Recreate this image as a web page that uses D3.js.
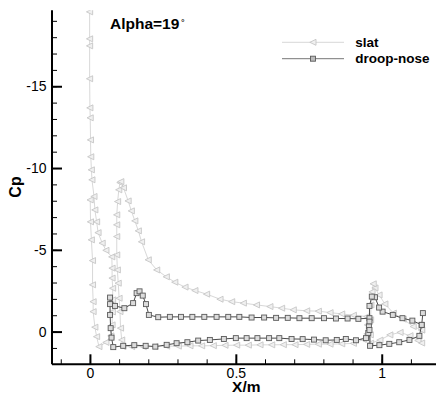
<!DOCTYPE html>
<html><head><meta charset="utf-8">
<script src="https://cdn.jsdelivr.net/npm/d3@7"></script>
<style>
html,body{margin:0;padding:0;background:#fff;}
svg{display:block;font-family:"Liberation Sans",Arial,sans-serif;}
</style></head>
<body>
<svg id="chart" width="436" height="395"></svg>
<script>
// ---------------- data ----------------
const seriesNames = ["slat", "droop-nose"];
const titleText = "Alpha=19";
const xLabel = "X/m";
const yLabel = "Cp";
const xMajorTicks = [0, 0.5, 1];
const xTickLabels = ["0", "0.5", "1"];
const yMajorTicks = [-15, -10, -5, 0];
const yTickLabels = ["-15", "-10", "-5", "0"];

// slat configuration: slat element [x, Cp]
const slatSlatElement = [
  [-0.001,-19.55],[-0.001,-17.90],[-0.001,-17.47],[-0.001,-15.46],[0.000,-13.68],[0.001,-13.07],
  [0.002,-11.72],[0.003,-10.69],[0.005,-9.89],[0.007,-9.28],[0.014,-8.26],[0.017,-7.44],
  [0.023,-6.71],[0.028,-6.05],[0.042,-5.41],[0.055,-4.97],[0.075,-4.57],
  [0.076,-3.88],[0.076,-3.27],[0.078,-2.65],[0.078,-1.94],[0.077,-1.20],[0.076,-0.41],
  [0.072,0.26],[0.055,0.66],[0.031,0.92],
  [0.023,0.31],[0.017,-0.27],[0.011,-1.22],[0.011,-1.83],[0.009,-2.86],[0.009,-4.34],
  [0.005,-5.61],[0.002,-6.71],[0.001,-8.05]
];
// slat configuration: main element
const slatMainElement = [
  [0.950,0.14],[0.937,0.48],[0.903,0.72],[0.863,0.75],[0.823,0.77],[0.783,0.77],[0.743,0.78],
  [0.703,0.80],[0.663,0.80],[0.623,0.81],[0.583,0.81],[0.543,0.83],[0.503,0.83],[0.463,0.84],
  [0.423,0.86],[0.383,0.87],[0.343,0.87],[0.303,0.89],[0.263,0.89],[0.223,0.91],[0.183,0.92],
  [0.143,0.92],[0.113,0.92],
  [0.109,0.51],[0.105,-0.21],[0.103,-1.22],[0.100,-2.04],[0.097,-2.96],[0.094,-3.77],
  [0.092,-4.69],[0.092,-5.81],[0.092,-6.53],[0.092,-7.14],[0.095,-7.95],[0.099,-8.67],
  [0.103,-9.11],[0.106,-9.17],[0.115,-8.79],
  [0.131,-7.99],[0.142,-7.38],[0.154,-6.77],[0.166,-6.16],[0.177,-5.49],[0.200,-4.39],
  [0.229,-3.77],[0.262,-3.35],[0.291,-3.02],[0.326,-2.72],[0.360,-2.51],[0.400,-2.29],
  [0.446,-1.98],[0.486,-1.83],[0.526,-1.74],[0.571,-1.63],[0.617,-1.53],[0.657,-1.43],
  [0.697,-1.33],[0.743,-1.27],[0.783,-1.25],[0.823,-1.16],[0.863,-1.08],[0.903,-1.00],
  [0.949,-0.92],[0.951,-0.41],[0.950,0.14]
];
// slat configuration: flap
const slatFlap = [
  [1.137,-0.10],[1.108,-0.31],[1.074,-0.76],[1.040,-1.13],[1.011,-1.69],[0.991,-2.24],
  [0.977,-2.67],[0.971,-2.92],
  [0.967,-2.43],[0.963,-1.63],[0.962,-0.72],[0.961,0.20],[0.962,0.71],
  [0.994,0.52],[1.028,0.20],[1.063,0.05],[1.097,0.25],[1.124,0.55],[1.137,0.70],[1.137,-0.10]
];
// droop-nose configuration: main element
const droopMainElement = [
  [0.954,0.08],[0.946,0.40],[0.912,0.53],[0.877,0.45],[0.846,0.51],[0.808,0.53],[0.768,0.49],
  [0.729,0.46],[0.691,0.45],[0.649,0.40],[0.614,0.40],[0.574,0.40],[0.537,0.40],[0.500,0.40],
  [0.459,0.45],[0.411,0.51],[0.371,0.55],[0.334,0.65],[0.297,0.71],[0.263,0.81],[0.224,0.92],
  [0.191,0.87],[0.152,0.83],[0.114,0.87],[0.080,0.95],
  [0.074,0.37],[0.071,-0.21],[0.069,-1.02],[0.069,-1.68],[0.069,-2.08],
  [0.086,-1.57],[0.118,-1.43],[0.148,-1.74],[0.160,-2.35],[0.170,-2.46],[0.181,-2.20],
  [0.192,-1.68],[0.202,-1.02],[0.234,-0.88],[0.274,-0.90],[0.312,-0.90],[0.351,-0.90],
  [0.392,-0.90],[0.434,-0.90],[0.474,-0.90],[0.512,-0.90],[0.554,-0.86],[0.597,-0.86],
  [0.638,-0.84],[0.678,-0.84],[0.718,-0.82],[0.760,-0.82],[0.802,-0.82],[0.843,-0.80],
  [0.883,-0.80],[0.920,-0.78],[0.958,-0.82],[0.958,-0.61],[0.956,-0.31]
];
// droop-nose configuration: flap
const droopFlap = [
  [1.141,-1.13],[1.137,-0.41],[1.105,-0.67],[1.071,-0.82],[1.038,-1.02],[1.003,-1.22],
  [0.991,-1.47],[0.977,-2.10],[0.966,-2.14],[0.958,-1.57],[0.958,-0.10],
  [0.960,0.87],[0.992,0.83],[1.026,0.75],[1.060,0.65],[1.095,0.51],[1.129,0.26],[1.137,-0.41]
];

// ---------------- chart ----------------
(function () {
const svg = d3.select("#chart");
const pLeft = 52, pRight = 436, pTop = 10.2, pBottom = 364.3;
const x = d3.scaleLinear().domain([-0.13, 1.186]).range([pLeft, pRight]);
const y = d3.scaleLinear().domain([-19.65, 2]).range([pTop, pBottom]);

svg.append("defs").append("clipPath").attr("id","clip")
  .append("rect").attr("x", pLeft).attr("y", pTop).attr("width", pRight-pLeft).attr("height", pBottom-pTop);

const plot = svg.append("g").attr("clip-path","url(#clip)");
const line = d3.line().x(d => x(d[0])).y(d => y(d[1]));

const slatColor = "#d8d8d8", slatMarker = "#c6c6c6";
const droopColor = "#4a4a4a", droopMarker = "#5a5a5a";

function drawTri(g, data) {
  g.selectAll("path.m").data(data).enter().append("path")
    .attr("transform", d => `translate(${x(d[0])},${y(d[1])})`)
    .attr("d", "M-3.2,0L3,-3L3,3Z")
    .attr("fill", "#f0f0f0").attr("stroke", slatMarker).attr("stroke-width", 0.9);
}
function drawSq(g, data) {
  g.selectAll("rect.m").data(data).enter().append("rect")
    .attr("x", d => x(d[0]) - 2.5).attr("y", d => y(d[1]) - 2.5)
    .attr("width", 5).attr("height", 5)
    .attr("fill", "#dcdcdc").attr("stroke", droopMarker).attr("stroke-width", 0.9);
}

[slatSlatElement, slatMainElement, slatFlap].forEach(s => {
  plot.append("path").datum(s).attr("d", line).attr("fill","none")
    .attr("stroke", slatColor).attr("stroke-width", 1);
});
[slatSlatElement, slatMainElement, slatFlap].forEach(s => drawTri(plot.append("g"), s));

[droopMainElement, droopFlap].forEach(s => {
  plot.append("path").datum(s).attr("d", line).attr("fill","none")
    .attr("stroke", droopColor).attr("stroke-width", 1);
});
[droopMainElement, droopFlap].forEach(s => drawSq(plot.append("g"), s));

// axes
const xAxis = d3.axisBottom(x).tickValues(xMajorTicks).tickSize(-10)
  .tickFormat((d,i) => xTickLabels[i]).tickPadding(4);
const xAxisMinor = d3.axisBottom(x).tickValues(d3.range(-0.1, 1.15, 0.1).map(v => Math.round(v*10)/10))
  .tickSize(-5).tickFormat("");
const yAxis = d3.axisLeft(y).tickValues(yMajorTicks).tickSize(-10)
  .tickFormat((d,i) => yTickLabels[i]).tickPadding(5.5);
const yAxisMinor = d3.axisLeft(y).tickValues(d3.range(-19, 2, 1)).tickSize(-5).tickFormat("");

function styleAxis(g, w) {
  g.select(".domain").remove();
  g.selectAll(".tick line").attr("stroke","#000").attr("stroke-width", w);
  g.selectAll(".tick text").attr("font-size", 14).attr("fill","#000")
    .attr("font-family", '"Liberation Sans",Arial,sans-serif');
}
svg.append("g").attr("transform", `translate(0,${pBottom})`).call(xAxisMinor).call(g => styleAxis(g, 1));
svg.append("g").attr("transform", `translate(0,${pBottom})`).call(xAxis).call(g => styleAxis(g, 2));
svg.append("g").attr("transform", `translate(${pLeft},0)`).call(yAxisMinor).call(g => styleAxis(g, 1));
svg.append("g").attr("transform", `translate(${pLeft},0)`).call(yAxis).call(g => styleAxis(g, 2));

// axis lines
svg.append("line").attr("x1", pLeft).attr("x2", pRight).attr("y1", pBottom).attr("y2", pBottom)
  .attr("stroke","#000").attr("stroke-width", 2);
svg.append("line").attr("x1", pLeft).attr("x2", pLeft).attr("y1", pTop).attr("y2", pBottom)
  .attr("stroke","#000").attr("stroke-width", 2);

// labels
svg.append("text").attr("x", 246.3).attr("y", 392.3).attr("text-anchor","middle")
  .attr("font-size", 15.5).attr("font-weight","bold").text(xLabel);
svg.append("text").attr("transform","translate(21,187) rotate(-90)").attr("text-anchor","middle")
  .attr("font-size", 16).attr("font-weight","bold").text(yLabel);

const title = svg.append("text").attr("x", 110).attr("y", 29)
  .attr("font-size", 15.5).attr("font-weight","bold").text(titleText);
title.append("tspan").attr("dx", 2).attr("font-size", 11).attr("font-weight","normal")
  .attr("dy", -1).text("˚");

// legend
const lg = svg.append("g");
const legY = [42.3, 58.7];
lg.append("line").attr("x1", 282).attr("x2", 344).attr("y1", legY[0]).attr("y2", legY[0])
  .attr("stroke", slatColor).attr("stroke-width", 1);
lg.append("path").attr("transform", `translate(313,${legY[0]})`).attr("d","M-3.2,0L3,-3L3,3Z")
  .attr("fill","#f0f0f0").attr("stroke", slatMarker).attr("stroke-width",0.9);
lg.append("line").attr("x1", 282).attr("x2", 344).attr("y1", legY[1]).attr("y2", legY[1])
  .attr("stroke", "#777").attr("stroke-width", 1);
lg.append("rect").attr("x", 310.5).attr("y", legY[1]-2.5).attr("width",5).attr("height",5)
  .attr("fill","#bbb").attr("stroke", droopMarker).attr("stroke-width",0.9);
seriesNames.forEach((n,i) => {
  lg.append("text").attr("x", 355.3).attr("y", legY[i] + 4.6).attr("font-size", 13.5)
    .attr("font-weight","bold").text(n);
});
})();
</script>
</body></html>
